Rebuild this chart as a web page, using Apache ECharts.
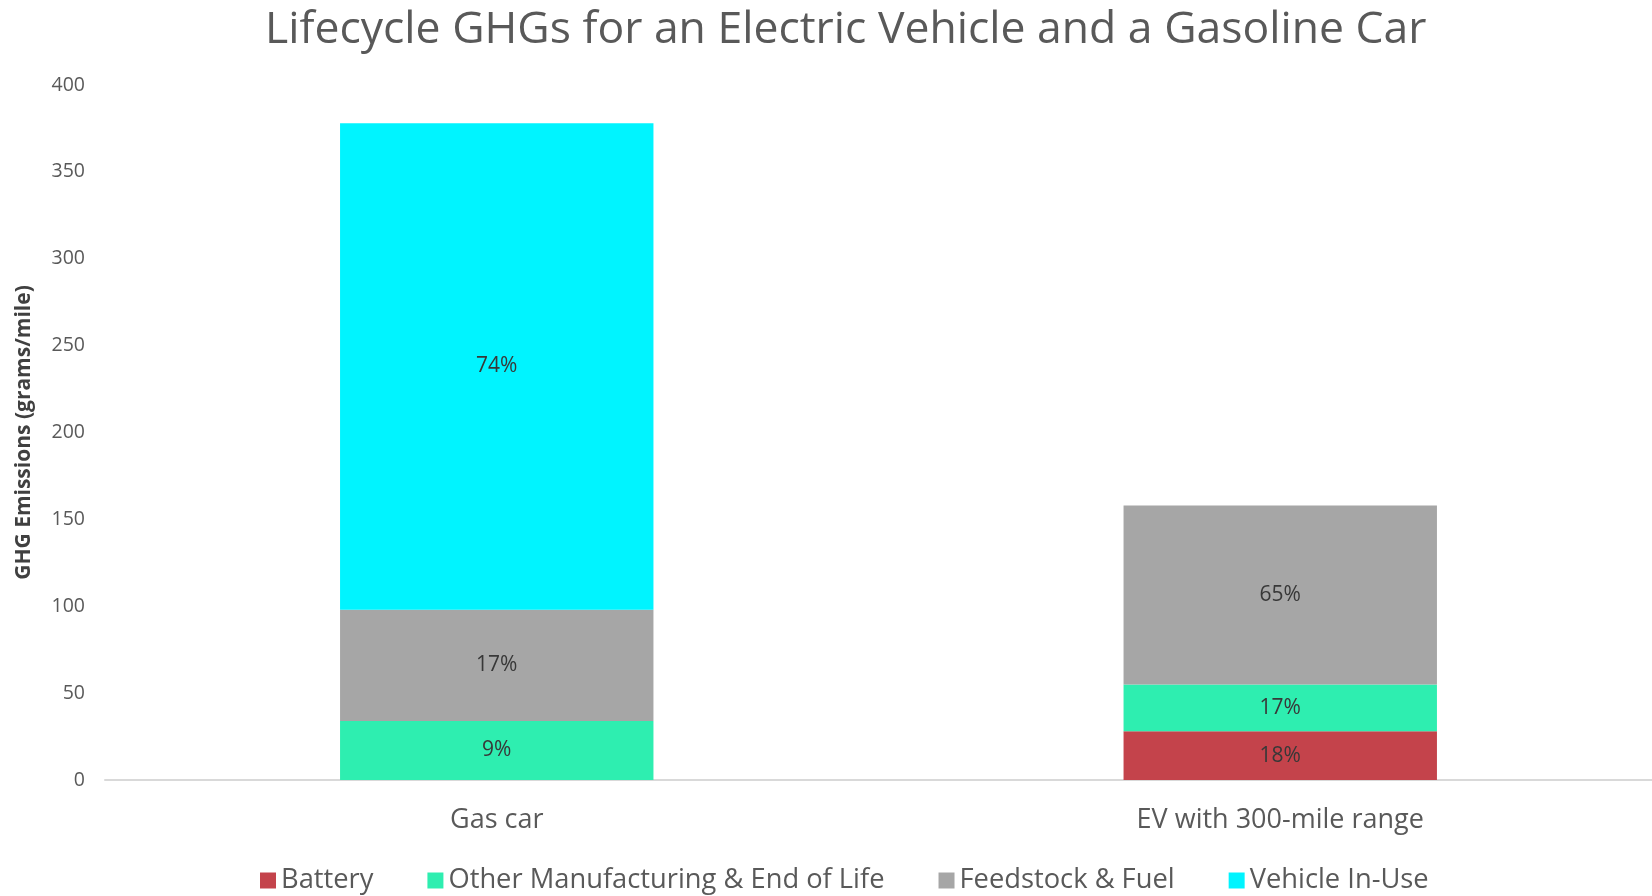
<!DOCTYPE html>
<html>
<head>
<meta charset="utf-8">
<script src="https://cdn.jsdelivr.net/npm/echarts@6/dist/echarts.min.js"></script>
<style>
html, body { margin: 0; padding: 0; background: #fff; }
#chart { width: 1652px; height: 896px; }
</style>
</head>
<body>
<div id="chart"></div>
<script>
// data (grams/mile)
const categories = ['Gas car', 'EV with 300-mile range']
const seriesNames = ['Battery', 'Other Manufacturing & End of Life', 'Feedstock & Fuel', 'Vehicle In-Use']
const battery = [0, 28]
const otherMfg = [34, 27]
const feedstock = [64, 103]
const inUse = [280, 0]
const colors = ['#C4434B', '#2EEEB0', '#A6A6A6', '#00F4FF']

const font = 'Open Sans'
const allData = [battery, otherMfg, feedstock, inUse]
const totals = categories.map((c, i) => allData.reduce((s, arr) => s + arr[i], 0))

let series = allData.map(function (arr, k) {
    return {
        name: seriesNames[k],
        type: 'bar',
        stack: 'total',
        barWidth: '40%',
        data: arr,
        itemStyle: { color: colors[k] },
        label: {
            show: true,
            position: 'inside',
            fontFamily: font,
            fontSize: 21,
            color: '#383838',
            formatter: function (p) {
                if (!p.value) return ''
                return Math.round(p.value / totals[p.dataIndex] * 100) + '%'
            }
        }
    }
})

let chart = echarts.init(document.getElementById('chart'))
chart.setOption({
    animation: false,
    title: {
        text: 'Lifecycle GHGs for an Electric Vehicle and a Gasoline Car',
        left: 260,
        top: 3,
        textStyle: { fontFamily: font, fontSize: 44.5, fontWeight: 'normal', color: '#595959' }
    },
    legend: {
        data: seriesNames,
        left: 255,
        top: 862,
        itemWidth: 16,
        itemHeight: 16,
        itemGap: 54,
        icon: 'rect',
        textStyle: { fontFamily: font, fontSize: 27.3, color: '#595959' }
    },
    grid: { left: 105, width: 1567, top: 85, bottom: 116, outerBoundsMode: 'none' },
    xAxis: {
        type: 'category',
        data: categories,
        axisLine: { lineStyle: { color: '#D9D9D9', width: 2 } },
        axisTick: { show: false },
        axisLabel: { fontFamily: font, fontSize: 27, color: '#595959', margin: 27 }
    },
    yAxis: {
        type: 'value',
        min: 0,
        max: 400,
        interval: 50,
        name: 'GHG Emissions (grams/mile)',
        nameLocation: 'middle',
        nameGap: 70,
        nameTextStyle: { fontFamily: font, fontSize: 21, fontWeight: 'bold', color: '#404040' },
        splitLine: { show: false },
        axisLine: { show: false },
        axisLabel: { fontFamily: font, fontSize: 19.5, color: '#595959', margin: 20 }
    },
    series: series
})
</script>
</body>
</html>
